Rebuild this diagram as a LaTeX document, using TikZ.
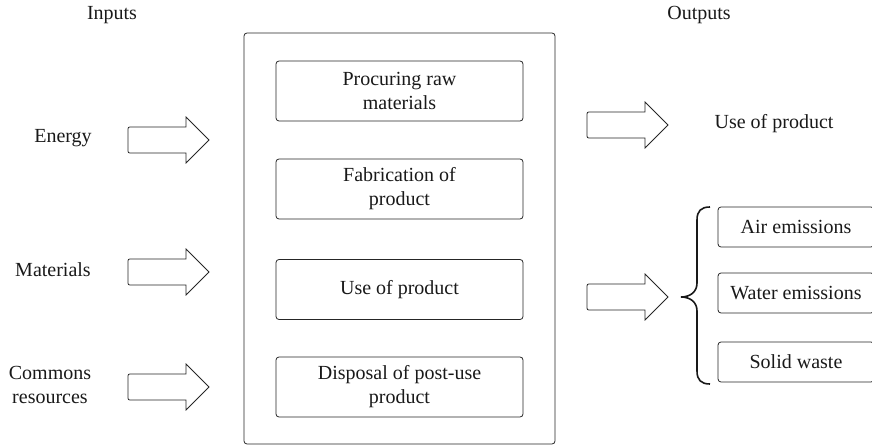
\documentclass[tikz,border=0pt]{standalone}
\usepackage{fontspec}
\setmainfont{Liberation Serif}
\begin{document}
\begin{tikzpicture}[x=1pt,y=-1pt,
  lbl/.style={font=\fontsize{20}{24}\selectfont, align=center, inner sep=0pt, text=black!90},
  frame/.style={draw=black!85, line width=0.8pt, rounded corners=3pt},
  stagebox/.style={frame, lbl, minimum width=247pt, minimum height=60pt},
  outbox/.style={frame, lbl, minimum width=156pt, minimum height=40pt},
  fatarrow/.pic={\draw[black!85, line width=0.8pt, line join=miter]
     (58,-13) -- (4,-13) .. controls (0,-13) .. (0,-9) -- (0,9)
     .. controls (0,13) .. (4,13) -- (58,13) -- (58,23) -- (81,0) -- (58,-23) -- cycle;}
]
\path[use as bounding box] (0,0) rectangle (872,446);
\clip (0,0) rectangle (872,446);

% headings
\node[lbl] (inputs) at (112,15) {Inputs};
\node[lbl] (outputs) at (699,15) {Outputs};

% main process box
\node[frame, minimum width=311pt, minimum height=411pt] (proc) at (399.5,238.5) {};
\node[stagebox] (s1) at (399.5,91) {Procuring raw\\materials};
\node[stagebox] (s2) at (399.5,189) {Fabrication of\\product};
\node[stagebox] (s3) at (399.5,289.5) {Use of product};
\node[stagebox] (s4) at (399.5,387) {Disposal of post-use\\product};

% inputs
\node[lbl] (energy) at (63,138) {Energy};
\node[lbl] (materials) at (53,270) {Materials};
\node[lbl] (commons) at (50,385) {Commons\\resources};
\pic (aE) at (128,140) {fatarrow};
\pic (aM) at (128,272) {fatarrow};
\pic (aC) at (128,387) {fatarrow};

% outputs
\pic (aU) at (587,125) {fatarrow};
\node[lbl] (useout) at (774,124) {Use of product};
\pic (aW) at (587,297) {fatarrow};

\coordinate (btop) at (710,207);
\coordinate (btip) at (681,297);
\coordinate (bbot) at (710,384);
\draw[black!90, line width=1.6pt]
  (btop) .. controls (701,207) and (697,211) .. (697,220) -- (697,283)
  .. controls (697,292) and (690,297) .. (btip)
  .. controls (690,297) and (697,302) .. (697,311) -- (697,371)
  .. controls (697,380) and (701,384) .. (bbot);

\node[outbox] (air) at (796,227) {Air emissions};
\node[outbox] (water) at (796,293) {Water emissions};
\node[outbox] (solid) at (796,362) {Solid waste};
\end{tikzpicture}
\end{document}
